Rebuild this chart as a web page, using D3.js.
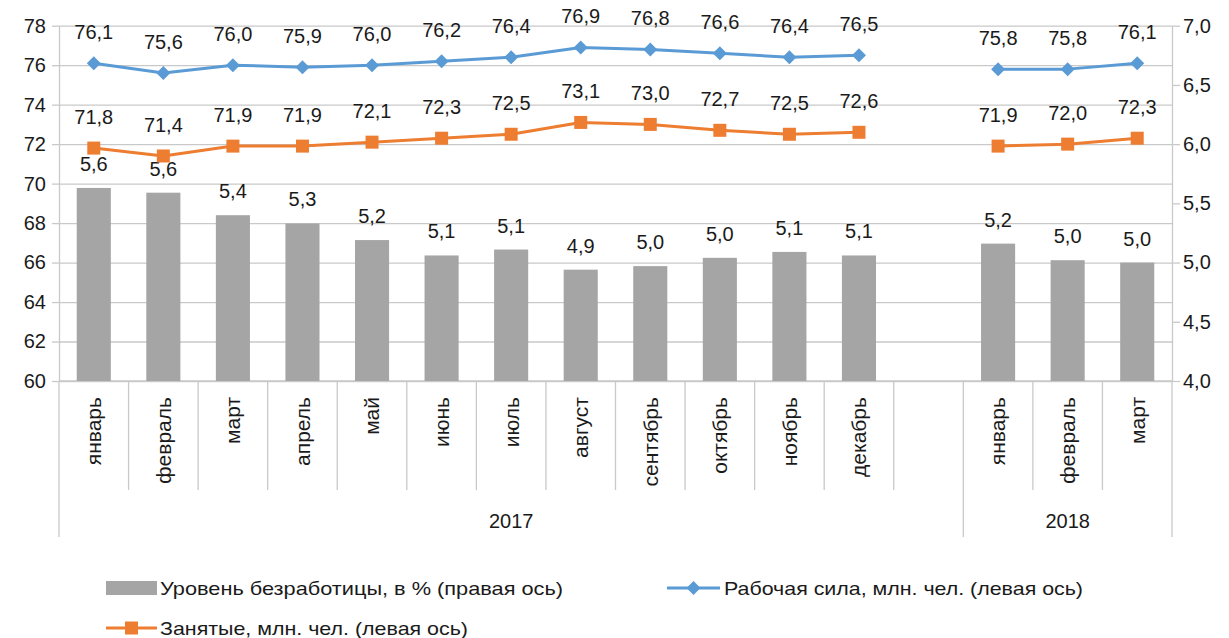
<!DOCTYPE html>
<html>
<head>
<meta charset="utf-8">
<script src="https://cdn.jsdelivr.net/npm/d3@7"></script>
<style>
  body { margin: 0; background: #fff; }
  svg { font-family: "Liberation Sans", Arial, sans-serif; }
</style>
</head>
<body>
<svg id="chart" width="1229" height="638"></svg>
<script>
const months2017 = ['январь', 'февраль', 'март', 'апрель', 'май', 'июнь', 'июль', 'август', 'сентябрь', 'октябрь', 'ноябрь', 'декабрь'];
const months2018 = ['январь', 'февраль', 'март'];
const years = ['2017', '2018'];

const unemployment2017 = [5.63, 5.59, 5.40, 5.33, 5.19, 5.06, 5.11, 4.94, 4.97, 5.04, 5.09, 5.06];
const unemployment2018 = [5.16, 5.02, 5.00];
const labor2017 = [76.1, 75.6, 76.0, 75.9, 76.0, 76.2, 76.4, 76.9, 76.8, 76.6, 76.4, 76.5];
const labor2018 = [75.8, 75.8, 76.1];
const employed2017 = [71.8, 71.4, 71.9, 71.9, 72.1, 72.3, 72.5, 73.1, 73.0, 72.7, 72.5, 72.6];
const employed2018 = [71.9, 72.0, 72.3];

const leftTicks = [60, 62, 64, 66, 68, 70, 72, 74, 76, 78];
const rightTicks = [4.0, 4.5, 5.0, 5.5, 6.0, 6.5, 7.0];

const seriesNames = {
    bars: 'Уровень безработицы, в % (правая ось)',
    labor: 'Рабочая сила, млн. чел. (левая ось)',
    employed: 'Занятые, млн. чел. (левая ось)',
};

const colors = { bars: '#A5A5A5', labor: '#5B9BD5', employed: '#ED7D31', grid: '#C9C9C9', text: '#1a1a1a' };

// slots: 12 months of 2017, one empty slot, 3 months of 2018
const slots = [];
months2017.forEach((m, i) => slots.push({ year: years[0], month: m, u: unemployment2017[i], lf: labor2017[i], emp: employed2017[i] }));
slots.push({ year: years[0], month: '', u: null, lf: null, emp: null });
months2018.forEach((m, i) => slots.push({ year: years[1], month: m, u: unemployment2018[i], lf: labor2018[i], emp: employed2018[i] }));
slots.forEach((d, i) => (d.key = i));

const plot = { left: 59, right: 1172, top: 25.7, bottom: 381 };
const fmt = v => d3.format('.1f')(v).replace('.', ',');

const svg = d3.select('#chart');

const x = d3.scaleBand().domain(slots.map(d => d.key)).range([plot.left, plot.right]).paddingInner(0).paddingOuter(0);
const yL = d3.scaleLinear().domain([60, 78]).range([plot.bottom, plot.top]);
const yR = d3.scaleLinear().domain([4, 7]).range([plot.bottom, plot.top]);

// gridlines
svg.append('g')
    .attr('transform', `translate(${plot.left},0)`)
    .call(d3.axisLeft(yL).tickValues(leftTicks).tickSize(-(plot.right - plot.left)).tickFormat(''))
    .call(g => g.select('.domain').remove())
    .call(g => g.selectAll('line').attr('stroke', colors.grid).attr('stroke-width', 1.3));

// left axis
svg.append('g')
    .attr('transform', `translate(${plot.left},0)`)
    .call(d3.axisLeft(yL).tickValues(leftTicks).tickSize(7).tickPadding(6).tickSizeOuter(0).tickFormat(d3.format('d')))
    .call(g => g.select('.domain').attr('stroke', colors.grid).attr('stroke-width', 1.3))
    .call(g => g.selectAll('line').attr('stroke', colors.grid).attr('stroke-width', 1.3))
    .call(g => g.selectAll('text').attr('font-size', 20).attr('fill', colors.text).attr('font-family', null));

// right axis
svg.append('g')
    .attr('transform', `translate(${plot.right},0)`)
    .call(d3.axisRight(yR).tickValues(rightTicks).tickSize(8).tickPadding(3).tickSizeOuter(0).tickFormat(fmt))
    .call(g => g.select('.domain').attr('stroke', colors.grid).attr('stroke-width', 1.3))
    .call(g => g.selectAll('line').attr('stroke', colors.grid).attr('stroke-width', 1.3))
    .call(g => g.selectAll('text').attr('font-size', 20).attr('fill', colors.text).attr('font-family', null));

// category axis: bottom line + separators
const cat = svg.append('g');
cat.append('line')
    .attr('x1', plot.left).attr('x2', plot.right)
    .attr('y1', plot.bottom).attr('y2', plot.bottom)
    .attr('stroke', colors.grid).attr('stroke-width', 1.3);

const bounds = d3.range(slots.length + 1).map(i => (i < slots.length ? x(i) : plot.right));
cat.selectAll('.sep')
    .data(bounds)
    .join('line')
    .attr('x1', d => d).attr('x2', d => d)
    .attr('y1', plot.bottom)
    .attr('y2', (d, i) => (i === 0 || i === slots.length || slots[i].year !== slots[i - 1].year ? 537 : 490))
    .attr('stroke', colors.grid).attr('stroke-width', 1.3);

cat.selectAll('.month')
    .data(slots.filter(d => d.month))
    .join('text')
    .attr('transform', d => `translate(${x(d.key) + x.bandwidth() / 2},397) rotate(-90)`)
    .attr('text-anchor', 'end')
    .attr('dy', '0.35em')
    .attr('font-size', 21)
    .attr('fill', colors.text)
    .text(d => d.month);

cat.selectAll('.year')
    .data(years)
    .join('text')
    .attr('x', yr => {
        const s = slots.filter(d => d.year === yr);
        return (x(s[0].key) + x(s[s.length - 1].key) + x.bandwidth()) / 2;
    })
    .attr('y', 528)
    .attr('text-anchor', 'middle')
    .attr('font-size', 20)
    .attr('fill', colors.text)
    .text(d => d);

// bars
const barW = x.bandwidth() * 0.49;
const barData = slots.filter(d => d.u != null);
svg.append('g')
    .selectAll('rect')
    .data(barData)
    .join('rect')
    .attr('x', d => x(d.key) + (x.bandwidth() - barW) / 2)
    .attr('y', d => yR(d.u))
    .attr('width', barW)
    .attr('height', d => plot.bottom - yR(d.u))
    .attr('fill', colors.bars);

svg.append('g')
    .selectAll('text')
    .data(barData)
    .join('text')
    .attr('x', d => x(d.key) + x.bandwidth() / 2)
    .attr('y', d => yR(d.u) - 17)
    .attr('text-anchor', 'middle')
    .attr('font-size', 20)
    .attr('fill', colors.text)
    .text(d => fmt(d.u));

// lines
const cx = d => x(d.key) + x.bandwidth() / 2;
function drawLine(field, color, marker) {
    const line = d3.line()
        .defined(d => d[field] != null)
        .x(cx)
        .y(d => yL(d[field]));
    const g = svg.append('g');
    g.append('path')
        .datum(slots)
        .attr('d', line)
        .attr('fill', 'none')
        .attr('stroke', color)
        .attr('stroke-width', 3)
        .attr('stroke-linejoin', 'round');
    const pts = slots.filter(d => d[field] != null);
    g.selectAll('path.m')
        .data(pts)
        .join('path')
        .attr('class', 'm')
        .attr('transform', d => `translate(${cx(d)},${yL(d[field])})`)
        .attr('d', marker)
        .attr('fill', color);
    g.selectAll('text')
        .data(pts)
        .join('text')
        .attr('x', cx)
        .attr('y', d => yL(d[field]) - 24)
        .attr('text-anchor', 'middle')
        .attr('font-size', 20)
        .attr('fill', colors.text)
        .text(d => fmt(d[field]));
}
const diamond = 'M0,-7L7,0L0,7L-7,0Z';
const square = 'M-6.5,-6.5H6.5V6.5H-6.5Z';
drawLine('emp', colors.employed, square);
drawLine('lf', colors.labor, diamond);

// legend
const legend = svg.append('g').attr('font-size', 19).attr('fill', colors.text);
legend.append('rect').attr('x', 106).attr('y', 581).attr('width', 51).attr('height', 14).attr('fill', colors.bars);
legend.append('text').attr('x', 160).attr('y', 595).attr('textLength', 403).attr('lengthAdjust', 'spacingAndGlyphs').text(seriesNames.bars);

legend.append('line').attr('x1', 667).attr('x2', 720).attr('y1', 588).attr('y2', 588).attr('stroke', colors.labor).attr('stroke-width', 3);
legend.append('path').attr('transform', 'translate(693.5,588)').attr('d', diamond).attr('fill', colors.labor);
legend.append('text').attr('x', 724).attr('y', 595).attr('textLength', 359).attr('lengthAdjust', 'spacingAndGlyphs').text(seriesNames.labor);

legend.append('line').attr('x1', 106).attr('x2', 157).attr('y1', 628).attr('y2', 628).attr('stroke', colors.employed).attr('stroke-width', 3);
legend.append('path').attr('transform', 'translate(131.5,628)').attr('d', square).attr('fill', colors.employed);
legend.append('text').attr('x', 160).attr('y', 635).attr('textLength', 308).attr('lengthAdjust', 'spacingAndGlyphs').text(seriesNames.employed);
</script>
</body>
</html>
